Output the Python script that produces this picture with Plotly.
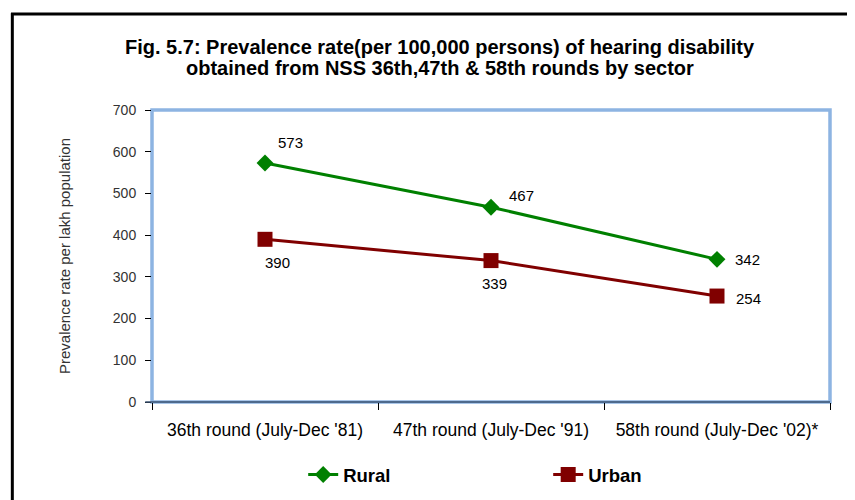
import plotly.graph_objects as go

rounds = ["36th round (July-Dec '81)", "47th round (July-Dec '91)", "58th round (July-Dec '02)*"]
rural = [573, 467, 342]
urban = [390, 339, 254]

# pixel offsets of the data labels from their points
rural_label_shift = [(25, 20), (30, 12), (30, 0)]
urban_label_shift = [(12, -23), (3, -23), (31, -2)]

GREEN = "#008000"
MAROON = "#800000"
BLUE = "#8DB4E2"
FONT = "Liberation Sans, Arial, sans-serif"

fig = go.Figure()
fig.add_trace(go.Scatter(
    x=rounds, y=rural, name="Rural",
    mode="lines+markers",
    line=dict(color=GREEN, width=3),
    marker=dict(symbol="diamond", size=13, color=GREEN),
))
fig.add_trace(go.Scatter(
    x=rounds, y=urban, name="Urban",
    mode="lines+markers",
    line=dict(color=MAROON, width=3),
    marker=dict(symbol="square", size=15, color=MAROON),
))

labels = []
for vals, shifts in ((rural, rural_label_shift), (urban, urban_label_shift)):
    for x, v, (dx, dy) in zip(rounds, vals, shifts):
        labels.append(dict(
            x=x, y=v, text=str(v), showarrow=False,
            xshift=dx, yshift=dy, xanchor="center", yanchor="middle",
            font=dict(family=FONT, size=15, color="#000000"),
        ))

title_font = dict(family=FONT, size=20, color="#000000", weight="bold")
labels += [
    dict(text="Fig. 5.7: Prevalence rate(per 100,000 persons) of hearing disability",
         xref="paper", yref="paper", x=0.425, y=1.216, xanchor="center", yanchor="middle",
         showarrow=False, font=title_font),
    dict(text="obtained from NSS 36th,47th & 58th rounds by sector",
         xref="paper", yref="paper", x=0.425, y=1.144, xanchor="center", yanchor="middle",
         showarrow=False, font=title_font),
]

# page body adds 8px margin, so the figure is 847x492
fig.update_layout(
    width=847, height=492,
    paper_bgcolor="white", plot_bgcolor="white",
    margin=dict(l=144, r=25, t=102, b=98),
    font=dict(family=FONT, color="#000000"),
    xaxis=dict(
        type="category", range=[-0.5, 2.5], automargin=False,
        tickson="boundaries", ticks="outside", ticklen=7, tickcolor="#000000",
        showgrid=False, showline=False, zeroline=False,
        tickfont=dict(family=FONT, size=17.5, color="#000000"),
        ticklabelstandoff=15,
    ),
    yaxis=dict(
        range=[0, 700], dtick=100, automargin=False,
        ticks="outside", ticklen=6, tickcolor="#000000",
        showgrid=False, zeroline=False, showline=False,
        tickfont=dict(family=FONT, size=14, color="#333333"),
        ticklabelstandoff=6,
        title=dict(text="Prevalence rate per lakh population",
                   font=dict(family=FONT, size=15, color="#333333"), standoff=38),
    ),
    showlegend=True,
    legend=dict(
        orientation="h", x=0.223, xanchor="left",
        yref="container", y=0.051, yanchor="middle",
        entrywidth=200, entrywidthmode="pixels",
        font=dict(family=FONT, size=18.5, color="#000000", weight="bold"),
    ),
    annotations=labels,
    shapes=[
        dict(type="rect", xref="paper", yref="paper", x0=0, x1=1, y0=0, y1=1,
             line=dict(color=BLUE, width=3.5), layer="below"),
        dict(type="line", xref="paper", yref="paper", x0=-0.01, x1=1, y0=0, y1=0,
             line=dict(color="#3A5270", width=1.5)),
        dict(type="line", xref="paper", yref="paper", x0=-0.206, x1=-0.206,
             y0=-0.5, y1=1.331, line=dict(color="#000000", width=3)),
        dict(type="line", xref="paper", yref="paper", x0=-0.208, x1=1.1,
             y0=1.329, y1=1.329, line=dict(color="#000000", width=3)),
    ],
)

fig.write_html("out.html")
